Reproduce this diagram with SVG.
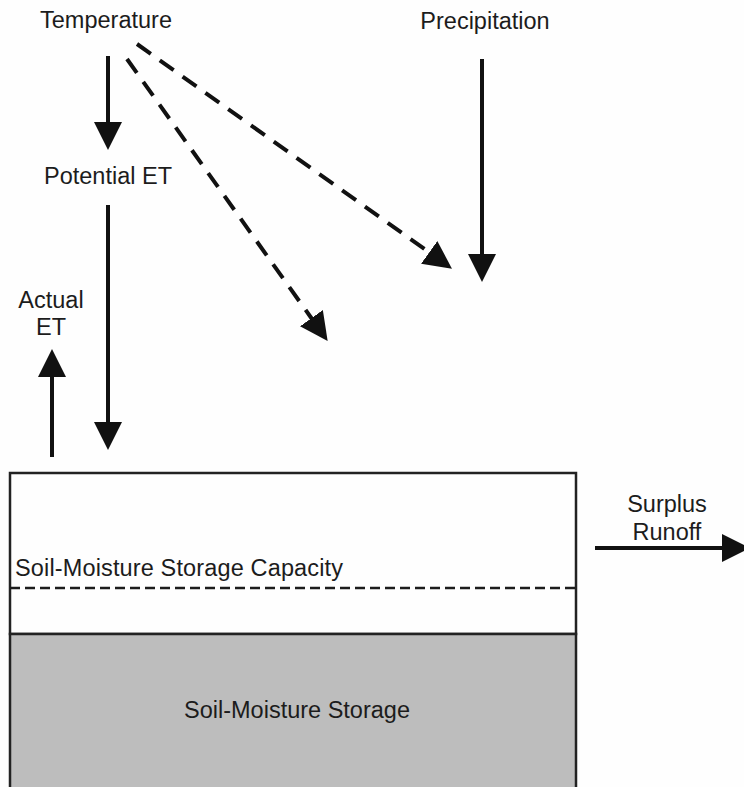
<svg xmlns="http://www.w3.org/2000/svg" width="744" height="787" viewBox="0 0 744 787">
  <style>
    .lbl { font-family: "Liberation Sans", Arial, sans-serif; font-size: 23.5px; fill: #1c1c1c; }
    .mid { text-anchor: middle; }
    .flow { stroke: #111; stroke-width: 4; fill: none; }
    .dash { stroke-dasharray: 17 11; }
    .frame { stroke: #222; stroke-width: 2.5; }
  </style>
  <defs>
    <marker id="head" viewBox="0 0 28 28" refX="1" refY="14" markerWidth="28" markerHeight="28" markerUnits="userSpaceOnUse" orient="auto">
      <path d="M0,0 L28,14 L0,28 Z" fill="#111"/>
    </marker>
  </defs>

  <rect width="744" height="787" fill="#fefefe"/>

  <!-- soil column -->
  <g id="soil-column">
    <rect x="10" y="473" width="566" height="161" fill="#fefefe" class="frame"/>
    <rect x="10" y="634" width="566" height="156" fill="#bdbdbd" class="frame"/>
    <line x1="10" y1="588" x2="576" y2="588" stroke="#1c1c1c" stroke-width="2.5" stroke-dasharray="10 5"/>
    <text class="lbl" x="15" y="576" textLength="328">Soil-Moisture Storage Capacity</text>
    <text class="lbl mid" x="297" y="718">Soil-Moisture Storage</text>
  </g>

  <g id="temperature">
    <text class="lbl mid" x="106" y="28">Temperature</text>
  </g>
  <g id="precipitation">
    <text class="lbl mid" x="485" y="29">Precipitation</text>
  </g>
  <g id="potential-et">
    <text class="lbl mid" x="108" y="184">Potential ET</text>
  </g>
  <g id="actual-et">
    <text class="lbl mid" x="51" y="308">Actual</text>
    <text class="lbl mid" x="51" y="335">ET</text>
  </g>
  <g id="surplus-runoff">
    <text class="lbl mid" x="667" y="512">Surplus</text>
    <text class="lbl mid" x="667" y="540">Runoff</text>
  </g>

  <!-- flows -->
  <g id="connectors">
    <line class="flow" x1="108" y1="56" x2="108" y2="123" marker-end="url(#head)"/>
    <line class="flow" x1="108" y1="205" x2="108" y2="423" marker-end="url(#head)"/>
    <line class="flow" x1="52" y1="457" x2="52" y2="376" marker-end="url(#head)"/>
    <line class="flow" x1="482" y1="59" x2="482" y2="255" marker-end="url(#head)"/>
    <line class="flow" x1="595" y1="548" x2="723" y2="548" marker-end="url(#head)"/>
    <line class="flow dash" x1="137" y1="44" x2="430" y2="253" marker-end="url(#head)"/>
    <line class="flow dash" x1="127" y1="59" x2="312" y2="319" marker-end="url(#head)"/>
  </g>
</svg>
